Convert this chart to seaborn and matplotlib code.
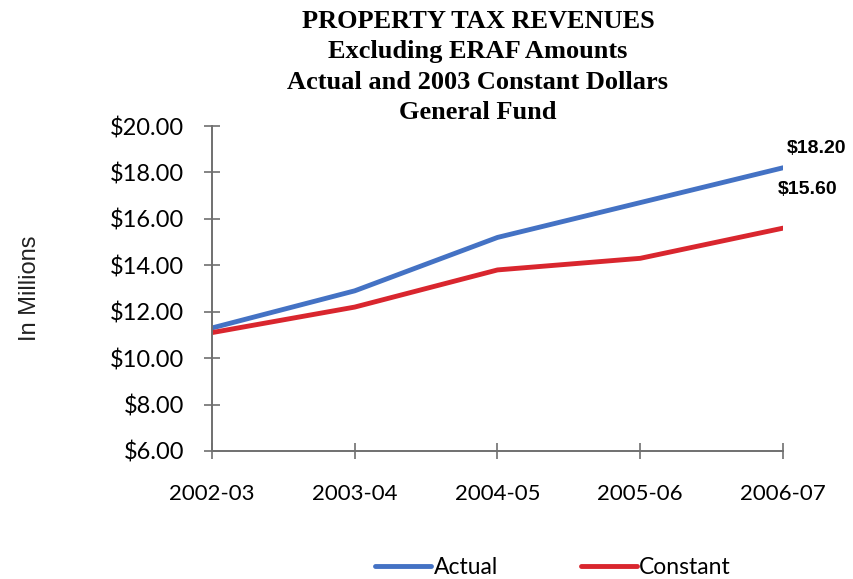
import matplotlib
matplotlib.use("Agg")
import matplotlib.pyplot as plt
import seaborn as sns
import pandas as pd
from matplotlib.lines import Line2D

years = ["2002-03", "2003-04", "2004-05", "2005-06", "2006-07"]
actual = [11.3, 12.9, 15.2, 16.7, 18.2]
constant = [11.1, 12.2, 13.8, 14.3, 15.6]
y_ticks = [6, 8, 10, 12, 14, 16, 18, 20]

df = pd.DataFrame({
    "Year": years * 2,
    "Value": actual + constant,
    "Series": ["Actual"] * len(years) + ["Constant"] * len(years),
})

sns.set_theme(style="white")
plt.rcParams["font.family"] = ["Lato", "DejaVu Sans"]
plt.rcParams["text.color"] = "black"

fig = plt.figure(figsize=(8.54, 5.79), dpi=100)
ax = fig.add_axes([212 / 854, 1 - 451 / 579, (783 - 212) / 854, (451 - 126) / 579])

palette = {"Actual": "#4472C4", "Constant": "#D9262E"}
sns.lineplot(data=df, x="Year", y="Value", hue="Series", palette=palette,
             linewidth=3.5, sort=False, ax=ax, legend=False)

ax.set_xlim(0, len(years) - 1)
ax.set_ylim(6, 20)
ax.set_yticks(y_ticks)
ax.set_yticklabels([f"${v:.2f}" for v in y_ticks], fontsize=17)
ax.set_xticks(range(len(years)))
ax.set_xticklabels(years, fontsize=16)
ax.tick_params(axis="both", direction="inout", length=12, width=1.2,
               color="#707070", labelcolor="black", bottom=True, left=True)
ax.tick_params(axis="x", pad=18)
ax.tick_params(axis="y", pad=14)
for side in ["top", "right"]:
    ax.spines[side].set_visible(False)
for side in ["left", "bottom"]:
    ax.spines[side].set_color("#707070")
    ax.spines[side].set_linewidth(1.4)
ax.set_xlabel("")
ax.set_ylabel("In Millions", fontsize=17, family=["Liberation Sans"],
              color="#222222", labelpad=50)
ax.grid(False)

# end-of-line value labels
ax.annotate(f"${actual[-1]:.2f}", (len(years) - 1, actual[-1]),
            xytext=(24, 14), textcoords="offset points", fontsize=14,
            fontweight="bold", family=["Liberation Sans"], ha="center", va="center")
ax.annotate(f"${constant[-1]:.2f}", (len(years) - 1, constant[-1]),
            xytext=(18, 28), textcoords="offset points", fontsize=14,
            fontweight="bold", family=["Liberation Sans"], ha="center", va="center")

fig.text(478 / 854, 1 - 67 / 579,
         "PROPERTY TAX REVENUES\nExcluding ERAF Amounts\nActual and 2003 Constant Dollars\nGeneral Fund",
         ha="center", va="center", fontsize=19, fontweight="bold",
         family=["Liberation Serif"], linespacing=1.42)

# legend
handles = [Line2D([0], [0], color=palette["Actual"], lw=3.5),
           Line2D([0], [0], color=palette["Constant"], lw=3.5)]
fig.legend(handles, ["Actual", "Constant"], loc="center", ncol=2,
           bbox_to_anchor=(553 / 854, 1 - 568 / 579), frameon=False,
           fontsize=16.5, handlelength=2.45, handletextpad=0.1, columnspacing=3.6)

fig.savefig("out.png", dpi=100, facecolor="white")
